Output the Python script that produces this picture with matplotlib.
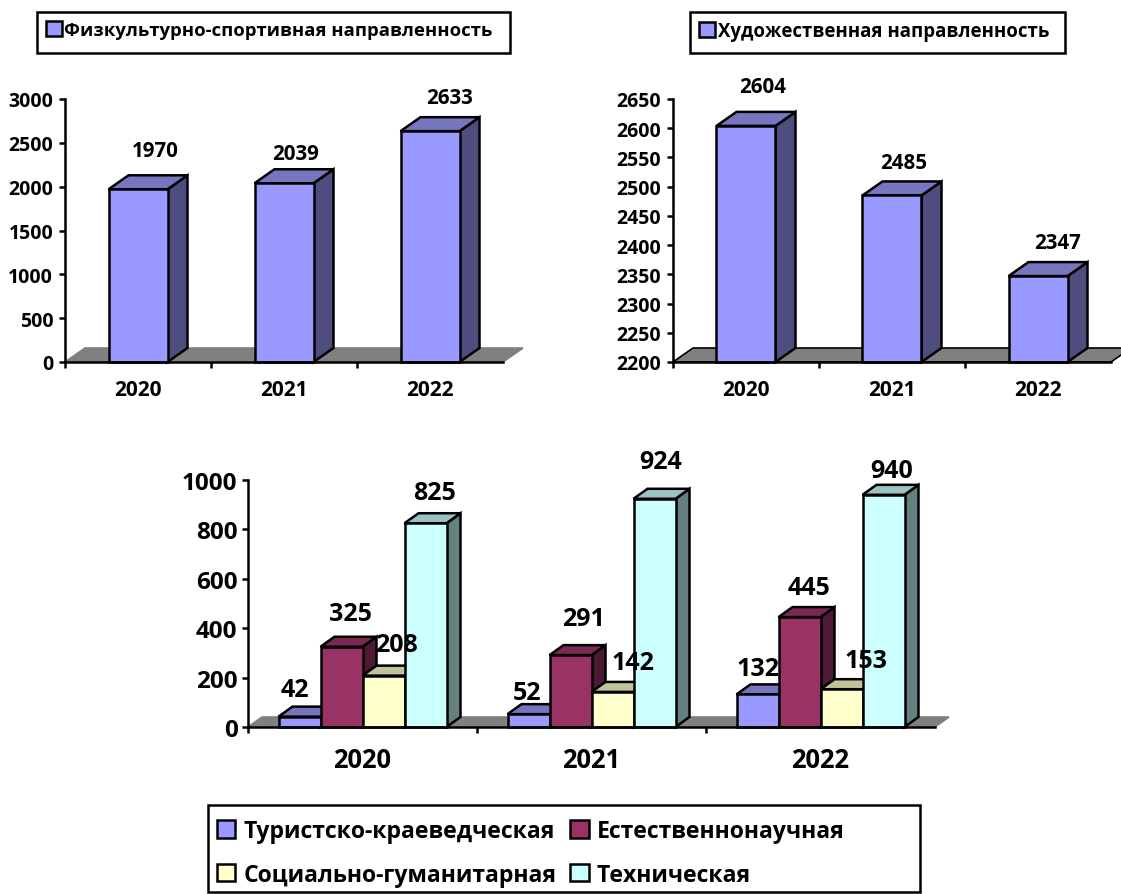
import matplotlib
matplotlib.use("Agg")
import matplotlib.pyplot as plt
from matplotlib.patches import Polygon, Rectangle

W, H = 1121, 895
plt.rcParams['font.family'] = ['Open Sans', 'DejaVu Sans']
plt.rcParams['font.weight'] = 'bold'

years = ['2020', '2021', '2022']
sport = [1970, 2039, 2633]
art = [2604, 2485, 2347]
tourism = [42, 52, 132]
science = [325, 291, 445]
social = [208, 142, 153]
tech = [825, 924, 940]

name_sport = 'Физкультурно-спортивная направленность'
name_art = 'Художественная направленность'
name_tourism = 'Туристско-краеведческая'
name_science = 'Естественнонаучная'
name_social = 'Социально-гуманитарная'
name_tech = 'Техническая'

C_BLUE = ('#9999FF', '#4D4D80', '#7676BE')
C_RED = ('#993366', '#4D1A33', '#7A2952')
C_YEL = ('#FFFFCC', '#808066', '#C2C29B')
C_CYAN = ('#CCFFFF', '#668080', '#9CC2C2')

LW = 1.8
fig = plt.figure(figsize=(W / 100, H / 100), dpi=100, facecolor='white')


def make_ax(x0, x1, ytop, ybot, ylim, yticks, fsx, fsy, padx, pady):
    ax = fig.add_axes([x0 / W, 1 - ybot / H, (x1 - x0) / W, (ybot - ytop) / H])
    ax.set_xlim(-0.5, 2.5)
    ax.set_ylim(*ylim)
    ax.patch.set_alpha(0)
    for s in ('top', 'right'):
        ax.spines[s].set_visible(False)
    for s in ('left', 'bottom'):
        ax.spines[s].set_linewidth(LW)
        ax.spines[s].set_zorder(20)
    ax.set_yticks(yticks)
    ax.set_xticks([0, 1, 2], years)
    ax.set_xticks([-0.5, 0.5, 1.5], minor=True)
    ax.tick_params(axis='x', which='major', length=0, labelsize=fsx, pad=padx)
    ax.tick_params(axis='x', which='minor', length=4, width=LW, direction='out')
    ax.tick_params(axis='y', length=4, width=LW, labelsize=fsy, pad=pady)
    return ax


def floor(ax, ddx, ddy, edge):
    xa, xb = ax.get_xlim()
    y0 = ax.get_ylim()[0]
    ax.add_patch(Polygon([(xa, y0), (xa + ddx, y0 + ddy), (xb + ddx, y0 + ddy), (xb, y0)],
                         closed=True, fc='#808080', ec=edge, lw=1.2, clip_on=False, zorder=1))


def bar3d(ax, x, w, vals, cols, ddx, ddy, label, z):
    y0 = ax.get_ylim()[0]
    bc = ax.bar(x, [v - y0 for v in vals], w, bottom=y0, color=cols[0], edgecolor='black',
                linewidth=LW, zorder=z + 0.2, label=label, clip_on=False)
    for xi, v in zip(x, vals):
        l, r = xi - w / 2, xi + w / 2
        ax.add_patch(Polygon([(r, y0), (r + ddx, y0 + ddy), (r + ddx, v + ddy), (r, v)], closed=True,
                             fc=cols[1], ec='black', lw=LW, clip_on=False, zorder=z))
        ax.add_patch(Polygon([(l, v), (l + ddx, v + ddy), (r + ddx, v + ddy), (r, v)], closed=True,
                             fc=cols[2], ec='black', lw=LW, clip_on=False, zorder=z + 0.1))
    return bc


def labels(ax, x, vals, offs, fs):
    for xi, v, o in zip(x, vals, offs):
        ax.annotate(str(v), (xi, v), xytext=o, textcoords='offset pixels', ha='center', va='center',
                    fontsize=fs, fontweight='bold', zorder=30, annotation_clip=False)


def legend(handles, names, box, x0, ytop, ncol, fs, hl, **kw):
    bx0, by0, bx1, by1 = box
    fig.add_artist(Rectangle((bx0 / W, 1 - by1 / H), (bx1 - bx0) / W, (by1 - by0) / H,
                             transform=fig.transFigure, fc='white', ec='black', lw=LW, zorder=5))
    leg = fig.legend(handles, names, loc='upper left', bbox_to_anchor=(x0 / W, 1 - ytop / H),
                     ncols=ncol, frameon=False, borderaxespad=0, borderpad=0,
                     prop={'size': fs, 'weight': 'bold'},
                     handlelength=hl, handleheight=hl, **kw)
    leg.set_zorder(6)
    return leg


# upper-left panel
ax1 = make_ax(65, 503, 100, 363, (0, 3000), range(0, 3001, 500), 15, 14, 12, 4.5)
ddx1, ddy1 = 20 / 146, 14 * 3000 / 263
floor(ax1, ddx1, ddy1, '#808080')
b1 = bar3d(ax1, [0, 1, 2], 59 / 146, sport, C_BLUE, ddx1, ddy1, name_sport, 3)
labels(ax1, [0, 1, 2], sport, [(17, 39), (12, 30), (20, 34)], 14.8)
legend([b1], [name_sport], (37, 13, 510, 54), 46, 22, 1, 13.3, 0.85, handletextpad=0.15)

# upper-right panel
ax2 = make_ax(673, 1111, 100, 363, (2200, 2650), range(2200, 2651, 50), 15, 14, 12, 4.5)
ddx2, ddy2 = 20 / 146, 14 * 450 / 263
floor(ax2, ddx2, ddy2, 'black')
b2 = bar3d(ax2, [0, 1, 2], 59 / 146, art, C_BLUE, ddx2, ddy2, name_art, 3)
labels(ax2, [0, 1, 2], art, [(17, 39), (12, 33), (20, 34)], 14.8)
legend([b2], [name_art], (690, 13, 1065, 54), 699, 22, 1, 13.4, 0.85, handletextpad=0.15)

# lower panel
ax3 = make_ax(248, 935, 481, 728, (0, 1000), range(0, 1001, 200), 18.4, 17.5, 13.5, 3.5)
ddx3, ddy3 = 14 / 229, 10 * 1000 / 247
floor(ax3, ddx3, ddy3, '#808080')
w3 = 42 / 229
series = [tourism, science, social, tech]
cols = [C_BLUE, C_RED, C_YEL, C_CYAN]
names = [name_tourism, name_science, name_social, name_tech]
offsets = [
    [(-5, 27), (-1, 22), (0, 26)],
    [(9, 33), (13, 37), (9, 30)],
    [(13, 31), (20, 29), (25, 29)],
    [(9, 31), (6, 37), (8, 24)],
]
handles = []
for k, (vals, c, n) in enumerate(zip(series, cols, names)):
    xs = [i + (k - 1.5) * w3 for i in range(3)]
    handles.append(bar3d(ax3, xs, w3, vals, c, ddx3, ddy3, n, 3 + k))
    labels(ax3, xs, vals, offsets[k], 18)
# column-first ordering of the two-column legend
order = [0, 2, 1, 3]
legend([handles[i] for i in order], [names[i] for i in order], (208, 806, 920, 893), 217, 820, 2,
       16.6, 0.8, handletextpad=0.35, columnspacing=0.6, labelspacing=0.85)

fig.savefig('out.png', dpi=100)
